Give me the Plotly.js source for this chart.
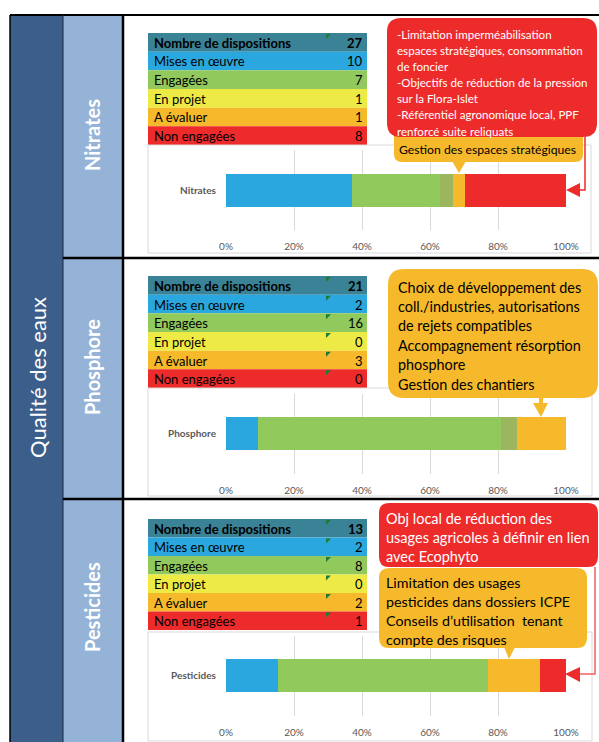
<!DOCTYPE html>
<html><head><meta charset="utf-8">
<script src="https://cdn.plot.ly/plotly-3.0.1.min.js"></script>
<style>html,body{margin:0;padding:0;background:#fff}</style>
</head><body><div id="chart" style="width:599px;height:742px"></div>
<script>
// ---------- data ----------
const sectionTitle = 'Qualité des eaux';
const groups = ['Nitrates', 'Phosphore', 'Pesticides'];
const tableLabels = ['Nombre de dispositions', 'Mises en œuvre', 'Engagées', 'En projet', 'A évaluer', 'Non engagées'];
const nitratesTable = [27, 10, 7, 1, 1, 8];
const phosphoreTable = [21, 2, 16, 0, 3, 0];
const pesticidesTable = [13, 2, 8, 0, 2, 1];
const barSeries = ['Mises en œuvre', 'Engagées', 'En projet', 'A évaluer', 'Non engagées'];
const nitratesBar = [10, 7, 1, 1, 8];
const phosphoreBar = [2, 15, 1, 3, 0];
const pesticidesBar = [2, 8, 0, 2, 1];
const xTickValues = [0, 20, 40, 60, 80, 100];
const nitratesRedNote = ['-Limitation imperméabilisation', 'espaces stratégiques, consommation', 'de foncier', '-Objectifs de réduction de la pression', 'sur la Flora-Islet', '-Référentiel agronomique local, PPF', 'renforcé suite reliquats'];
const nitratesOrangeNote = ['Gestion des espaces stratégiques'];
const phosphoreOrangeNote = ['Choix de développement des', 'coll./industries, autorisations', 'de rejets compatibles', 'Accompagnement résorption', 'phosphore', 'Gestion des chantiers'];
const pesticidesRedNote = ['Obj local de réduction des', 'usages agricoles à définir en lien', 'avec Ecophyto'];
const pesticidesOrangeNote = ['Limitation des usages', 'pesticides dans dossiers ICPE', 'Conseils d’utilisation\u00a0 tenant', 'compte des risques'];

// ---------- styles ----------
const W = 599, H = 742;
const FONT = 'Lato, "Noto Sans", sans-serif';
const tableColors = ['#3A8296', '#2BA7DF', '#91C95C', '#EEEA45', '#F5B92B', '#EE2B2B'];
const barColors = ['#2BA7DF', '#91C95C', '#9BB65F', '#F5B92B', '#EE2B2B'];
const RED = '#EE2B2B', ORANGE = '#F5B92B';
const fx = x => x / W, fy = y => 1 - y / H;

const tables = [nitratesTable, phosphoreTable, pesticidesTable];
const bars = [nitratesBar, phosphoreBar, pesticidesBar];
const geo = [
  {top: 15, bottom: 258, tTop: 33, tBot: 145, box: [148, 145, 591, 253], plot: [150, 230], markers: [0], title: 135},
  {top: 258, bottom: 499, tTop: 276, tBot: 388, box: [148, 388, 592, 496], plot: [393.5, 473.5], markers: [0,1,2,3,4,5], title: 367},
  {top: 499, bottom: 742, tTop: 519, tBot: 630, box: [148, 632, 592, 741], plot: [635.5, 715.5], markers: [0,1,2,3,4,5], title: 607}
];

const shapes = [];
const annotations = [];
function rect(x0, y0, x1, y1, fill, line, lw, layer) {
  shapes.push({type: 'rect', xref: 'paper', yref: 'paper', x0: fx(x0), x1: fx(x1), y0: fy(y1), y1: fy(y0),
    fillcolor: fill, line: {color: line || 'rgba(0,0,0,0)', width: lw || 0}, layer: layer || 'below'});
}
function line(x0, y0, x1, y1, color, w, layer) {
  shapes.push({type: 'line', xref: 'paper', yref: 'paper', x0: fx(x0), x1: fx(x1), y0: fy(y0), y1: fy(y1),
    line: {color: color, width: w}, layer: layer || 'below'});
}
function pt(x, y) { return fx(x).toFixed(5) + ',' + fy(y).toFixed(5); }
function poly(points, fill, layer) {
  shapes.push({type: 'path', xref: 'paper', yref: 'paper', path: 'M' + points.map(p => pt(p[0], p[1])).join('L') + 'Z',
    fillcolor: fill, line: {width: 0}, layer: layer || 'above'});
}
function polyline(points, color, w) {
  shapes.push({type: 'path', xref: 'paper', yref: 'paper', path: 'M' + points.map(p => pt(p[0], p[1])).join('L'),
    line: {color: color, width: w}, layer: 'above'});
}
function roundRect(x0, y0, x1, y1, r, fill) {
  const p = 'M' + pt(x0 + r, y0) + 'L' + pt(x1 - r, y0) + 'Q' + pt(x1, y0) + ' ' + pt(x1, y0 + r) +
    'L' + pt(x1, y1 - r) + 'Q' + pt(x1, y1) + ' ' + pt(x1 - r, y1) +
    'L' + pt(x0 + r, y1) + 'Q' + pt(x0, y1) + ' ' + pt(x0, y1 - r) +
    'L' + pt(x0, y0 + r) + 'Q' + pt(x0, y0) + ' ' + pt(x0 + r, y0) + 'Z';
  shapes.push({type: 'path', xref: 'paper', yref: 'paper', path: p, fillcolor: fill, line: {width: 0}, layer: 'above'});
}
function text(str, x, y, opts) {
  opts = opts || {};
  annotations.push({xref: 'paper', yref: 'paper', x: fx(x), y: fy(y), text: str, showarrow: false,
    xanchor: opts.xanchor || 'left', yanchor: 'middle', textangle: opts.angle || 0,
    font: {family: FONT, size: opts.size || 13, color: opts.color || '#000', weight: opts.weight || 'normal'}});
}
function noteLines(lines, x, y0, step, size, color) {
  lines.forEach((l, i) => text(l, x, y0 + i * step, {size: size, color: color}));
}

// ---------- frame ----------
rect(10, 15, 63, 742, '#3C5E8A');
rect(63, 15, 123, 742, '#95B3D7');
line(10, 15, 599, 15, '#000', 2);
line(10, 15, 10, 742, '#000', 1.5);
line(63, 15, 63, 742, '#1a2a40', 1);
line(123, 15, 123, 742, '#000', 2.5);
line(63, 258, 599, 258, '#000', 2.5);
line(63, 499, 599, 499, '#000', 2.5);
text(sectionTitle, 37, 378, {xanchor: 'center', angle: -90, size: 22, color: '#fff'});

// ---------- sections ----------
const traces = [];
groups.forEach((g, i) => {
  const G = geo[i];
  text(g, 92, G.title, {xanchor: 'center', angle: -90, size: 20, color: '#fff', weight: 'bold'});
  // table
  const rh = (G.tBot - G.tTop) / tableLabels.length;
  tableLabels.forEach((lab, r) => {
    const y0 = G.tTop + r * rh;
    rect(148, y0, 367, y0 + rh, tableColors[r]);
    const yc = y0 + rh / 2 + 0.5;
    text(lab, 152, yc, {size: 13, weight: r === 0 ? 'bold' : 'normal'});
    text(String(tables[i][r]), 365, yc, {xanchor: 'right', size: 13, weight: r === 0 ? 'bold' : 'normal'});
    if (G.markers.indexOf(r) >= 0) poly([[326, y0 + 1], [331, y0 + 1], [326, y0 + 6]], '#1E7B3A', 'below');
  });
  // chart box
  rect(G.box[0], G.box[1], G.box[2], G.box[3], '#fff', '#D9D9D9', 1);
  // bars
  const ax = i === 0 ? '' : String(i + 1);
  barSeries.forEach((s, j) => {
    traces.push({type: 'bar', orientation: 'h', name: s, y: [g], x: [bars[i][j]],
      xaxis: 'x' + ax, yaxis: 'y' + ax, marker: {color: barColors[j], line: {width: 0}},
      hovertemplate: s + ': %{x:.1f}%<extra></extra>'});
  });
});

const layout = {
  width: W, height: H, margin: {l: 0, r: 0, t: 0, b: 0},
  paper_bgcolor: '#fff', plot_bgcolor: 'rgba(0,0,0,0)',
  barmode: 'stack', barnorm: 'percent', bargap: 0.5875, showlegend: false,
  shapes: shapes, annotations: annotations
};
geo.forEach((G, i) => {
  const ax = i === 0 ? '' : String(i + 1);
  layout['xaxis' + ax] = {domain: [fx(226), fx(566)], range: [0, 100], tickvals: xTickValues,
    ticktext: xTickValues.map(v => v + '%'), showgrid: true, gridcolor: '#D9D9D9', gridwidth: 1,
    zeroline: false, showline: false, ticks: '', ticklabelstandoff: 9,
    tickfont: {family: FONT, size: 10, color: '#595959'}, anchor: 'y' + ax, fixedrange: true};
  layout['yaxis' + ax] = {domain: [fy(G.plot[1]), fy(G.plot[0])], type: 'category', ticks: '',
    ticklabelstandoff: 9, showline: false, showgrid: false, zeroline: false,
    tickfont: {family: FONT, size: 10, color: '#595959', weight: 'bold'}, anchor: 'x' + ax, fixedrange: true};
});

// ---------- callouts ----------
// Nitrates
roundRect(394, 118, 583, 162, 8, ORANGE);
poly([[452, 161], [466, 161], [459, 173]], ORANGE);
roundRect(387, 18, 597, 137, 14, RED);
polyline([[585, 137], [585, 190], [579, 190]], RED, 1.5);
poly([[566, 190], [580, 183], [580, 197]], RED);
noteLines(nitratesRedNote, 395, 34, 16.2, 11.6, '#fff');
noteLines(nitratesOrangeNote, 397, 150, 16, 12.2, '#000');
// Phosphore
roundRect(388, 269, 598, 398, 16, ORANGE);
rect(539, 396, 543, 404, ORANGE, null, 0, 'above');
poly([[533, 403], [548, 403], [541, 417]], ORANGE);
noteLines(phosphoreOrangeNote, 396, 287, 19.4, 14.4, '#000');
// Pesticides
roundRect(379, 503, 598, 567, 10, RED);
polyline([[595, 567], [595, 674], [579, 674]], '#F0605E', 1.5);
poly([[565, 674], [580, 667], [580, 682]], RED);
roundRect(379, 568, 587, 648, 10, ORANGE);
poly([[504, 647], [515, 647], [509, 659]], ORANGE);
noteLines(pesticidesRedNote, 384, 518, 19, 14.5, '#fff');
noteLines(pesticidesOrangeNote, 384, 582, 19, 14.3, '#000');

Plotly.newPlot('chart', traces, layout, {displayModeBar: false, staticPlot: true});
</script></body></html>
